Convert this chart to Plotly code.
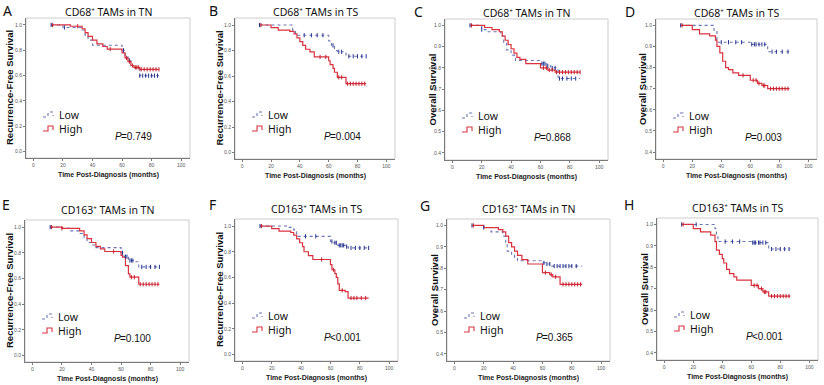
import plotly.graph_objects as go

# ---------------- data ----------------
titles = ["CD68\u207a TAMs in TN", "CD68\u207a TAMs in TS",
          "CD68\u207a TAMs in TN", "CD68\u207a TAMs in TS",
          "CD163\u207a TAMs in TN", "CD163\u207a TAMs in TS",
          "CD163\u207a TAMs in TN", "CD163\u207a TAMs in TS"]
letters = ["A", "B", "C", "D", "E", "F", "G", "H"]
ytitles = ["Recurrence-Free Survival", "Recurrence-Free Survival", "Overall Survival", "Overall Survival",
           "Recurrence-Free Survival", "Recurrence-Free Survival", "Overall Survival", "Overall Survival"]
pvalues = ["=0.749", "=0.004", "=0.868", "=0.003", "=0.100", "<0.001", "=0.365", "<0.001"]
group_names = ["Low", "High"]

x_ticks = [0, 20, 40, 60, 80, 100]
rfs_ticks = [0.0, 0.2, 0.4, 0.6, 0.8, 1.0]
os_ticks = [0.4, 0.5, 0.6, 0.7, 0.8, 0.9, 1.0]

A_low_t = [12, 20, 33, 35, 37, 40, 60, 62, 64, 66, 68, 72, 85]
A_low_s = [1.0, 0.98, 0.96, 0.92, 0.88, 0.84, 0.80, 0.76, 0.72, 0.68, 0.66, 0.60, 0.60]
A_high_t = [12, 25, 33, 35, 37, 40, 43, 47, 50, 60, 62, 64, 66, 68, 72, 85]
A_high_s = [1.0, 0.99, 0.97, 0.94, 0.91, 0.88, 0.85, 0.83, 0.81, 0.78, 0.74, 0.71, 0.68, 0.665, 0.65, 0.65]
A_low_c = [12, 21, 61, 65, 72, 74, 76, 78, 80, 82, 84]
A_high_c = [13, 30, 52, 63, 65, 67, 69, 70, 71, 73, 75, 77, 79, 81, 83, 85]

B_low_t = [12, 35, 37, 60, 62, 64, 66, 72, 86]
B_low_s = [1.0, 0.96, 0.92, 0.875, 0.84, 0.80, 0.79, 0.755, 0.755]
B_high_t = [12, 20, 25, 33, 36, 38, 40, 42, 44, 47, 50, 60, 61, 63, 64, 66, 72, 86]
B_high_s = [1.0, 0.98, 0.96, 0.95, 0.93, 0.90, 0.87, 0.84, 0.81, 0.79, 0.75, 0.72, 0.69, 0.66, 0.63, 0.59, 0.54, 0.54]
B_low_c = [12, 43, 48, 52, 56, 63, 67, 69, 74, 77, 80, 83, 86]
B_high_c = [13, 54, 58, 67, 69, 73, 75, 77, 79, 81, 83, 85]

C_low_t = [12, 20, 23, 33, 35, 37, 40, 43, 60, 64, 67, 72, 87]
C_low_s = [1.0, 0.98, 0.97, 0.95, 0.92, 0.885, 0.86, 0.835, 0.82, 0.81, 0.80, 0.75, 0.75]
C_high_t = [12, 22, 27, 32, 34, 36, 38, 40, 42, 44, 46, 50, 60, 65, 70, 87]
C_high_s = [1.0, 0.99, 0.98, 0.97, 0.95, 0.93, 0.91, 0.89, 0.87, 0.85, 0.84, 0.82, 0.80, 0.79, 0.78, 0.78]
C_low_c = [12, 20, 61, 62, 63, 65, 68, 70, 73, 75, 78, 81, 84]
C_high_c = [13, 62, 64, 66, 68, 71, 73, 75, 77, 79, 81, 83, 85, 87]

D_low_t = [12, 35, 37, 60, 72, 87]
D_low_s = [1.0, 0.97, 0.92, 0.91, 0.875, 0.875]
D_high_t = [12, 20, 25, 32, 36, 37, 39, 41, 43, 45, 48, 52, 60, 65, 68, 72, 87]
D_high_s = [1.0, 0.98, 0.96, 0.95, 0.93, 0.90, 0.87, 0.83, 0.80, 0.79, 0.775, 0.763, 0.74, 0.725, 0.715, 0.70, 0.70]
D_low_c = [12, 40, 45, 50, 54, 61, 63, 64, 66, 68, 70, 75, 78, 82, 86]
D_high_c = [13, 55, 62, 64, 66, 69, 70, 74, 76, 78, 80, 82, 84, 86]

E_low_t = [12, 20, 25, 32, 35, 37, 40, 43, 60, 62, 65, 70, 72, 86]
E_low_s = [1.0, 0.99, 0.97, 0.95, 0.91, 0.88, 0.86, 0.84, 0.80, 0.77, 0.74, 0.73, 0.69, 0.69]
E_high_t = [12, 20, 32, 35, 37, 40, 43, 46, 49, 60, 61, 63, 65, 66, 72, 86]
E_high_s = [1.0, 0.99, 0.97, 0.94, 0.91, 0.88, 0.85, 0.83, 0.81, 0.78, 0.765, 0.70, 0.635, 0.61, 0.555, 0.555]
E_low_c = [12, 61, 63, 64, 66, 67, 68, 74, 77, 80, 83, 86]
E_high_c = [13, 20, 55, 67, 69, 73, 75, 77, 79, 81, 83, 85]

F_low_t = [12, 30, 35, 37, 38, 60, 62, 65, 70, 72, 86]
F_low_s = [1.0, 0.99, 0.97, 0.94, 0.92, 0.88, 0.87, 0.85, 0.84, 0.83, 0.83]
F_high_t = [12, 20, 25, 33, 35, 37, 39, 41, 42, 45, 48, 60, 61, 63, 64, 65, 66, 70, 72, 86]
F_high_s = [1.0, 0.98, 0.96, 0.95, 0.93, 0.90, 0.87, 0.84, 0.80, 0.77, 0.74, 0.70, 0.66, 0.63, 0.60, 0.55, 0.50, 0.49, 0.44, 0.44]
F_low_c = [12, 43, 50, 61, 63, 64, 66, 67, 68, 69, 71, 74, 77, 80, 83, 86]
F_high_c = [13, 54, 62, 68, 74, 76, 78, 81, 84]

G_low_t = [12, 20, 25, 33, 35, 36, 39, 41, 43, 60, 62, 66, 87]
G_low_s = [1.0, 0.99, 0.97, 0.95, 0.92, 0.88, 0.86, 0.85, 0.835, 0.825, 0.82, 0.81, 0.81]
G_high_t = [12, 20, 30, 33, 35, 37, 39, 41, 43, 46, 50, 60, 65, 67, 72, 87]
G_high_s = [1.0, 0.99, 0.98, 0.97, 0.95, 0.92, 0.90, 0.88, 0.86, 0.84, 0.82, 0.78, 0.77, 0.76, 0.725, 0.725]
G_low_c = [12, 20, 61, 63, 65, 68, 70, 72, 74, 76, 78, 80, 83]
G_high_c = [13, 62, 66, 69, 74, 76, 78, 80, 82, 84, 86]

H_low_t = [12, 35, 36, 37, 60, 72, 87]
H_low_s = [1.0, 0.98, 0.95, 0.92, 0.915, 0.885, 0.885]
H_high_t = [12, 20, 25, 32, 35, 36, 38, 40, 41, 43, 45, 48, 50, 60, 65, 68, 72, 87]
H_high_s = [1.0, 0.98, 0.965, 0.95, 0.92, 0.88, 0.86, 0.84, 0.82, 0.79, 0.77, 0.755, 0.74, 0.715, 0.70, 0.685, 0.665, 0.665]
H_low_c = [12, 22, 42, 47, 52, 61, 62, 63, 65, 66, 68, 70, 74, 77, 80, 83, 86]
H_high_c = [13, 62, 64, 67, 69, 70, 74, 76, 78, 80, 82, 84, 86]

curves = [
    (A_low_t, A_low_s, A_low_c, A_high_t, A_high_s, A_high_c),
    (B_low_t, B_low_s, B_low_c, B_high_t, B_high_s, B_high_c),
    (C_low_t, C_low_s, C_low_c, C_high_t, C_high_s, C_high_c),
    (D_low_t, D_low_s, D_low_c, D_high_t, D_high_s, D_high_c),
    (E_low_t, E_low_s, E_low_c, E_high_t, E_high_s, E_high_c),
    (F_low_t, F_low_s, F_low_c, F_high_t, F_high_s, F_high_c),
    (G_low_t, G_low_s, G_low_c, G_high_t, G_high_s, G_high_c),
    (H_low_t, H_low_s, H_low_c, H_high_t, H_high_s, H_high_c),
]

# ---------------- layout geometry (pixels) ----------------
W, H = 824, 385
boxes = [(26, 18, 190, 158), (235, 18, 395, 159), (445, 19, 608, 160), (656, 19, 817, 159),
         (25, 220, 189, 362), (235, 219, 398, 361), (447, 219, 610, 361), (657, 218, 818, 360)]
letter_pos = [(8, 10), (213, 10), (418, 11), (630, 11), (6, 205), (212, 205), (425, 206), (629, 205)]

LOW_LINE = "#6a75b5"
LOW_MARK = "#27348f"
HIGH_LINE = "#d8323f"
HIGH_MARK = "#c21f2d"
FRAME = "#cdcdcd"
AXIS = "#7a7a7a"


def px(x):
    return x / W


def py(y):
    return 1 - y / H


def surv_at(ts, ss, t):
    v = ss[0]
    for ti, si in zip(ts, ss):
        if ti <= t:
            v = si
    return v


fig = go.Figure()
annotations = []
shapes = []

for i in range(8):
    lt, ls, lc, ht, hs, hc = curves[i]
    left, top, right, bottom = boxes[i]
    n = "" if i == 0 else str(i + 1)
    xa, ya = "x" + n, "y" + n
    is_os = ytitles[i] == "Overall Survival"

    # curves
    fig.add_trace(go.Scatter(x=lt, y=ls, mode="lines", line=dict(color=LOW_LINE, width=1.1, dash="dot", shape="hv"),
                             xaxis=xa, yaxis=ya, showlegend=False, name=group_names[0]))
    fig.add_trace(go.Scatter(x=ht, y=hs, mode="lines", line=dict(color=HIGH_LINE, width=1.2, shape="hv"),
                             xaxis=xa, yaxis=ya, showlegend=False, name=group_names[1]))
    # censor marks
    fig.add_trace(go.Scatter(x=lc, y=[surv_at(lt, ls, t) for t in lc], mode="markers",
                             marker=dict(symbol="line-ns", size=3, line=dict(color=LOW_MARK, width=1)),
                             xaxis=xa, yaxis=ya, showlegend=False))
    fig.add_trace(go.Scatter(x=hc, y=[surv_at(ht, hs, t) for t in hc], mode="markers",
                             marker=dict(symbol="line-ns", size=3, line=dict(color=HIGH_MARK, width=1)),
                             xaxis=xa, yaxis=ya, showlegend=False))

    yt = os_ticks if is_os else rfs_ticks
    yrange = [0.367, 1.03] if is_os else [-0.05, 1.055]
    fig.layout["xaxis" + n] = dict(domain=[px(left), px(right)], anchor=ya, range=[-5, 106],
                                   tickvals=x_ticks, ticktext=[str(v) for v in x_ticks],
                                   showgrid=False, zeroline=False, showline=True, linecolor=AXIS, linewidth=1,
                                   ticks="outside", ticklen=2, tickcolor=AXIS, tickwidth=1,
                                   tickfont=dict(size=5, color="#555", family="Liberation Sans"))
    fig.layout["yaxis" + n] = dict(domain=[py(bottom), py(top)], anchor=xa, range=yrange,
                                   tickvals=yt, ticktext=["%.1f" % v for v in yt],
                                   showgrid=False, zeroline=False, showline=True, linecolor=AXIS, linewidth=1,
                                   ticks="outside", ticklen=2, tickcolor=AXIS, tickwidth=1,
                                   tickfont=dict(size=5, color="#555", family="Liberation Sans"))
    # light frame
    shapes.append(dict(type="rect", xref=xa + " domain", yref=ya + " domain", x0=0, x1=1, y0=0, y1=1,
                       line=dict(color=FRAME, width=1), layer="below"))

    cx = (left + right) / 2
    row_off = 6 if i < 4 else 10
    annotations.append(dict(x=px(cx), y=py(top - row_off), xref="paper", yref="paper", text=titles[i],
                            showarrow=False, xanchor="center", yanchor="middle",
                            font=dict(size=10.5, family="Noto Sans", color="#111")))
    lx, ly = letter_pos[i]
    annotations.append(dict(x=px(lx), y=py(ly), xref="paper", yref="paper", text=letters[i],
                            showarrow=False, xanchor="center", yanchor="middle",
                            font=dict(size=14, family="Noto Sans", color="#111")))
    ytx = left - (13 if is_os else 16)
    annotations.append(dict(x=px(ytx), y=py((top + bottom) / 2), xref="paper", yref="paper",
                            text=ytitles[i], textangle=-90, showarrow=False,
                            xanchor="center", yanchor="middle",
                            font=dict(size=9.5, family="Liberation Sans", color="#111", weight="bold")))
    annotations.append(dict(x=px(cx), y=py(bottom + 17), xref="paper", yref="paper",
                            text="Time Post-Diagnosis (months)", showarrow=False,
                            xanchor="center", yanchor="middle",
                            font=dict(size=7, family="Liberation Sans", color="#222", weight="bold")))
    # legend entries
    for k, (gname, col, dash) in enumerate([(group_names[0], LOW_LINE, "dot"), (group_names[1], HIGH_LINE, "solid")]):
        ey = top + 97 + k * 14
        x0 = left + 17
        path = "M %f %f L %f %f L %f %f L %f %f L %f %f" % (
            px(x0), py(ey + 2), px(x0 + 5), py(ey + 2), px(x0 + 5), py(ey - 3),
            px(x0 + 10), py(ey - 3), px(x0 + 10), py(ey + 1))
        shapes.append(dict(type="path", xref="paper", yref="paper", path=path,
                           line=dict(color=col, width=1.1, dash=dash)))
        annotations.append(dict(x=px(left + 31), y=py(ey), xref="paper", yref="paper", text=gname,
                                showarrow=False, xanchor="left", yanchor="middle",
                                font=dict(size=10.5, family="Noto Sans", color="#111")))
    # P value: italic "P" followed by the value
    annotations.append(dict(x=px(left + 87), y=py(top + 118), xref="paper", yref="paper",
                            text="P", showarrow=False, xanchor="left", yanchor="middle",
                            font=dict(size=10, family="Liberation Sans", color="#111", style="italic")))
    annotations.append(dict(x=px(left + 87 + 6.4), y=py(top + 118), xref="paper", yref="paper",
                            text=pvalues[i], showarrow=False, xanchor="left", yanchor="middle",
                            font=dict(size=10, family="Liberation Sans", color="#111")))

fig.update_layout(width=W, height=H, margin=dict(l=0, r=0, t=0, b=0),
                  paper_bgcolor="white", plot_bgcolor="white",
                  annotations=annotations, shapes=shapes, showlegend=False)

fig.write_html("out.html", config={"displayModeBar": False},
               post_script="document.body.style.margin='0';document.body.style.overflow='hidden';")
